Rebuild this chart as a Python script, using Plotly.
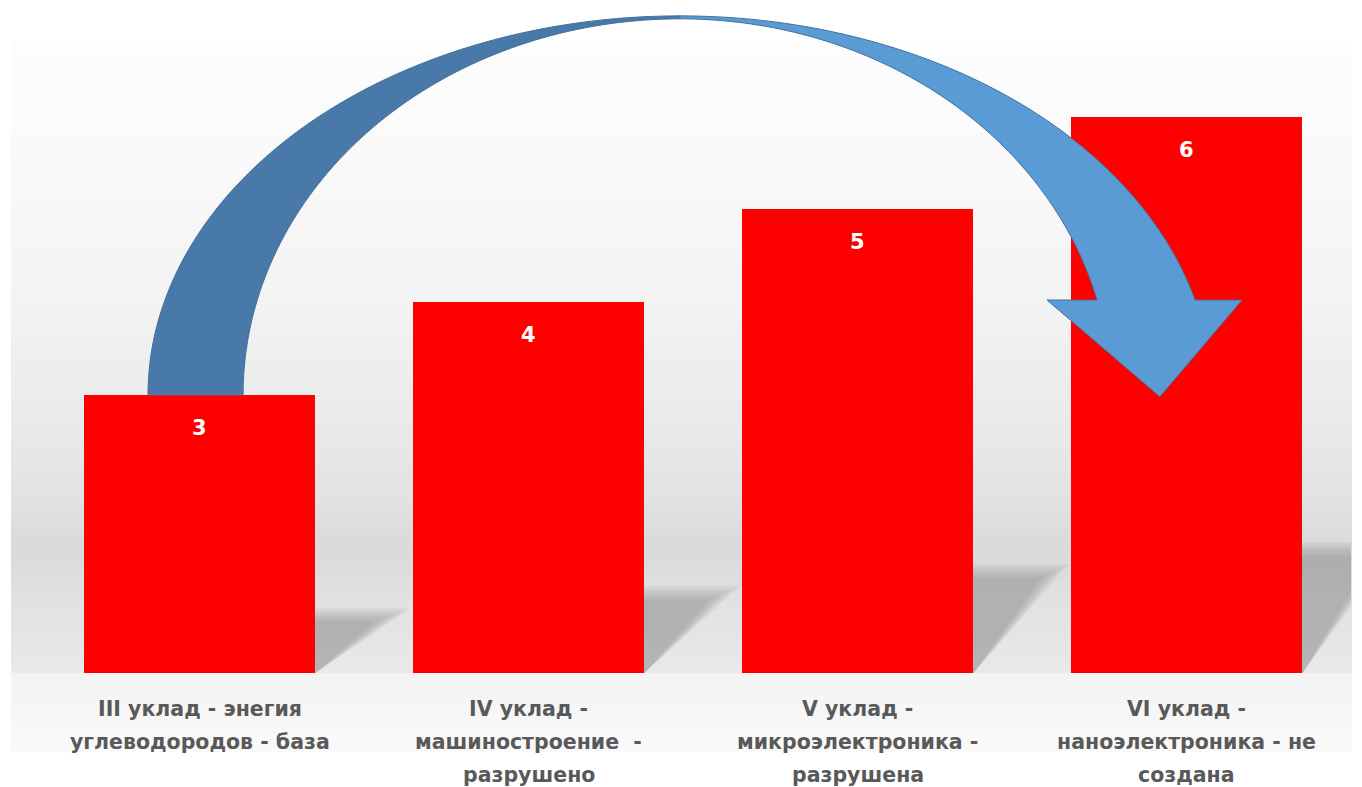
import numpy as np
import plotly.graph_objects as go

# ---------------- data ----------------
category_lines = [
    ["III уклад - энегия", "углеводородов - база"],
    ["IV уклад -", "машиностроение\u00a0 -", "разрушено"],
    ["V уклад -", "микроэлектроника -", "разрушена"],
    ["VI уклад -", "наноэлектроника - не", "создана"],
]
values = [3, 4, 5, 6]
value_labels = ["3", "4", "5", "6"]

# ---------------- layout geometry ----------------
W, H = 1362, 787
ML, MR, MT, MB = 35, 11, 10, 114
PW = W - ML - MR
PH = H - MT - MB
XR = (-0.5, len(values) - 0.5)
PX_PER_UNIT = 92.71
YMAX = PH / PX_PER_UNIT
BAR_W = 0.705

x = list(range(len(values)))


def paper_x(px):
    return (px - ML) / PW


def paper_y(py):
    return (H - MB - py) / PH


shapes = []

# ---------------- background gradient (decoration) ----------------
ctrl_py = [40, 150, 300, 420, 500, 545, 575, 605, 640, 672, 674, 720, 752]
ctrl_g = [253, 250, 243, 234, 226, 218, 221, 226, 229, 233, 243, 247, 250]
step = 3
for py in range(40, 752, step):
    g = int(round(np.interp(py + step / 2, ctrl_py, ctrl_g)))
    shapes.append(dict(
        type="rect", xref="paper", yref="paper", layer="below",
        x0=paper_x(11), x1=paper_x(1352),
        y0=paper_y(min(py + step + 1, 752)), y1=paper_y(py),
        fillcolor=f"rgb({g},{g},{g})", line=dict(width=0),
    ))

# ---------------- bar shadows ----------------
SH_RATIO = 0.235
SH_SHIFT = 0.29
for i, v in zip(x, values):
    xl, xr = i - BAR_W / 2, i + BAR_W / 2
    for k, dy in enumerate([0.0, 0.03, 0.06, 0.09, 0.12, 0.15]):
        h = SH_RATIO * v - dy
        s = SH_SHIFT * h / (SH_RATIO * v)
        path = (f"M {xl},0 L {xr},0 L {xr + s - 0.01 * k},{h} "
                f"L {xl + s},{h} Z")
        shapes.append(dict(
            type="path", xref="x", yref="y", layer="below", path=path,
            fillcolor="rgba(125,125,125,0.10)", line=dict(width=0),
        ))

# ---------------- curved arrow (decoration anchored to bars) ----------------
cx = 1.4605
cy = values[0]
rxo, ryo = 1.617, 4.088
rxi_l, ryi = 1.328, 4.056
rxi_r = 1.310
head_y = cy + 1.023
head_l, head_r = 2.576, 3.169
tip = (2.919, cy - 0.02)


def pts_to_path(pts):
    s = "M " + " L ".join(f"{a:.5f},{b:.5f}" for a, b in pts)
    return s + " Z"


th = np.linspace(np.pi, np.pi / 2, 80)
left_pts = [(cx + rxo * np.cos(t), cy + ryo * np.sin(t)) for t in th]
left_pts += [(cx + rxi_l * np.cos(t), cy + ryi * np.sin(t)) for t in th[::-1]]

th_o_end = np.arcsin((head_y - cy) / ryo)
th_i_end = np.arcsin((head_y - cy) / ryi)
tho = np.linspace(np.pi / 2, th_o_end, 80)
thi = np.linspace(th_i_end, np.pi / 2, 80)
right_pts = [(cx + rxo * np.cos(t), cy + ryo * np.sin(t)) for t in tho]
right_pts += [(head_r, head_y), tip, (head_l, head_y)]
right_pts += [(cx + rxi_r * np.cos(t), cy + ryi * np.sin(t)) for t in thi]

shapes.append(dict(type="path", xref="x", yref="y", layer="above",
                   path=pts_to_path(left_pts), fillcolor="#4879a8",
                   line=dict(color="#41719c", width=1)))
shapes.append(dict(type="path", xref="x", yref="y", layer="above",
                   path=pts_to_path(right_pts), fillcolor="#5b9bd5",
                   line=dict(color="#41719c", width=1)))

# ---------------- figure ----------------
fig = go.Figure()
fig.add_trace(go.Bar(
    x=x, y=values, width=BAR_W,
    marker=dict(color="#ff0000", line=dict(width=0)),
    hoverinfo="skip", showlegend=False,
))

annotations = []
FONT = "'DejaVu Sans', Verdana, sans-serif"
for i, v, lab in zip(x, values, value_labels):
    annotations.append(dict(
        x=i, y=v, xref="x", yref="y", yshift=-33, showarrow=False,
        text=f"<b>{lab}</b>", yanchor="middle",
        font=dict(family=FONT, size=21, color="white"),
    ))
for i, lines in zip(x, category_lines):
    for j, line in enumerate(lines):
        annotations.append(dict(
            x=i, y=0, xref="x", yref="y", yshift=-36 - j * 33,
            showarrow=False, text=f"<b>{line}</b>", yanchor="middle",
            font=dict(family=FONT, size=20.5, color="#595959"),
        ))

fig.update_layout(
    width=W, height=H,
    margin=dict(l=ML, r=MR, t=MT, b=MB, pad=0),
    paper_bgcolor="white", plot_bgcolor="rgba(0,0,0,0)",
    xaxis=dict(range=list(XR), visible=False, fixedrange=True),
    yaxis=dict(range=[0, YMAX], visible=False, fixedrange=True),
    shapes=shapes, annotations=annotations,
    showlegend=False, bargap=0,
)

fig.write_html("out.html", post_script="document.body.style.margin='0';",
               config=dict(displayModeBar=False))
